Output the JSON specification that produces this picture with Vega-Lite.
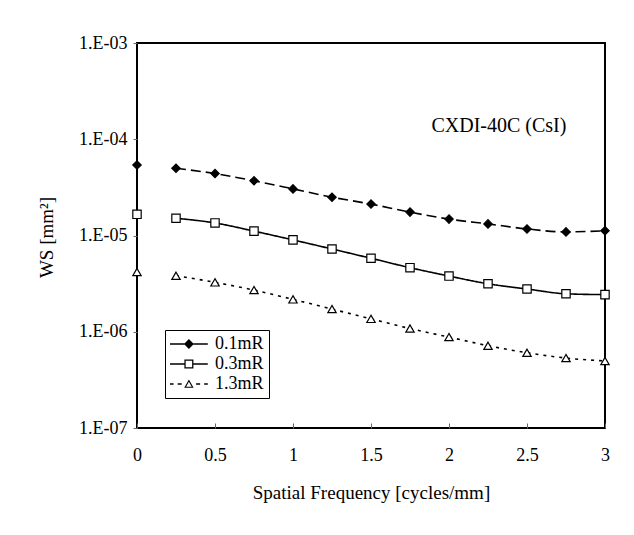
{
  "$schema": "https://vega.github.io/schema/vega-lite/v6.json",
  "width": 468,
  "height": 385,
  "autosize": {"type": "none"},
  "padding": {"left": 137, "top": 43, "right": 29, "bottom": 107},
  "background": "white",
  "config": {
    "view": {"stroke": "black", "strokeWidth": 2},
    "font": "Liberation Serif",
    "axis": {"grid": false, "domain": false, "labelFont": "Liberation Serif", "titleFont": "Liberation Serif", "labelColor": "black", "titleColor": "black", "titleFontWeight": "normal", "labelFontSize": 18, "titleFontSize": 19, "tickColor": "#666", "tickWidth": 1}
  },
  "datasets": {
    "ws": [
      {"series": "0.1mR", "x": 0, "y": 5.4e-5},
      {"series": "0.1mR", "x": 0.25, "y": 5.0e-5},
      {"series": "0.1mR", "x": 0.5, "y": 4.4e-5},
      {"series": "0.1mR", "x": 0.75, "y": 3.7e-5},
      {"series": "0.1mR", "x": 1.0, "y": 3.05e-5},
      {"series": "0.1mR", "x": 1.25, "y": 2.5e-5},
      {"series": "0.1mR", "x": 1.5, "y": 2.12e-5},
      {"series": "0.1mR", "x": 1.75, "y": 1.75e-5},
      {"series": "0.1mR", "x": 2.0, "y": 1.48e-5},
      {"series": "0.1mR", "x": 2.25, "y": 1.32e-5},
      {"series": "0.1mR", "x": 2.5, "y": 1.17e-5},
      {"series": "0.1mR", "x": 2.75, "y": 1.09e-5},
      {"series": "0.1mR", "x": 3.0, "y": 1.12e-5},
      {"series": "0.3mR", "x": 0, "y": 1.66e-5},
      {"series": "0.3mR", "x": 0.25, "y": 1.51e-5},
      {"series": "0.3mR", "x": 0.5, "y": 1.35e-5},
      {"series": "0.3mR", "x": 0.75, "y": 1.11e-5},
      {"series": "0.3mR", "x": 1.0, "y": 9.0e-6},
      {"series": "0.3mR", "x": 1.25, "y": 7.24e-6},
      {"series": "0.3mR", "x": 1.5, "y": 5.8e-6},
      {"series": "0.3mR", "x": 1.75, "y": 4.63e-6},
      {"series": "0.3mR", "x": 2.0, "y": 3.79e-6},
      {"series": "0.3mR", "x": 2.25, "y": 3.15e-6},
      {"series": "0.3mR", "x": 2.5, "y": 2.78e-6},
      {"series": "0.3mR", "x": 2.75, "y": 2.48e-6},
      {"series": "0.3mR", "x": 3.0, "y": 2.43e-6},
      {"series": "1.3mR", "x": 0, "y": 4.18e-6},
      {"series": "1.3mR", "x": 0.25, "y": 3.82e-6},
      {"series": "1.3mR", "x": 0.5, "y": 3.26e-6},
      {"series": "1.3mR", "x": 0.75, "y": 2.71e-6},
      {"series": "1.3mR", "x": 1.0, "y": 2.17e-6},
      {"series": "1.3mR", "x": 1.25, "y": 1.72e-6},
      {"series": "1.3mR", "x": 1.5, "y": 1.36e-6},
      {"series": "1.3mR", "x": 1.75, "y": 1.08e-6},
      {"series": "1.3mR", "x": 2.0, "y": 8.8e-7},
      {"series": "1.3mR", "x": 2.25, "y": 7.16e-7},
      {"series": "1.3mR", "x": 2.5, "y": 6.05e-7},
      {"series": "1.3mR", "x": 2.75, "y": 5.33e-7},
      {"series": "1.3mR", "x": 3.0, "y": 4.97e-7}
    ],
    "note": [{"x": 2.32, "y": 1.37e-4, "label": "CXDI-40C (CsI)"}]
  },
  "resolve": {"scale": {"shape": "independent"}},
  "layer": [
    {
      "data": {"name": "ws"},
      "transform": [{"filter": "datum.x > 0"}],
      "mark": {"type": "line", "interpolate": "monotone", "color": "black", "strokeWidth": 1.6},
      "encoding": {
        "x": {"field": "x", "type": "quantitative", "scale": {"domain": [0, 3], "nice": false},
          "axis": {"values": [0, 0.5, 1, 1.5, 2, 2.5, 3], "format": "~g", "title": "Spatial Frequency [cycles/mm]", "tickSize": -5, "labelPadding": 23, "titleY": 64, "titleBaseline": "middle", "labelFlush": false}},
        "y": {"field": "y", "type": "quantitative", "scale": {"type": "log", "domain": [1e-7, 1e-3], "nice": false},
          "axis": {"values": [1e-7, 1e-6, 1e-5, 1e-4, 1e-3], "labelExpr": "'1.E-0' + (-round(log(datum.value)/LN10))", "title": "WS [mm²]", "tickSize": 4, "labelPadding": 6, "titleX": -91, "titleY": 194, "titleBaseline": "middle", "titleAngle": 270, "labelFlush": false}},
        "detail": {"field": "series"},
        "strokeDash": {"field": "series", "type": "nominal", "legend": null,
          "scale": {"domain": ["0.1mR", "0.3mR", "1.3mR"], "range": [[10, 5], [1, 0], [3, 5]]}}
      }
    },
    {
      "data": {"name": "ws"},
      "mark": {"type": "point", "stroke": "black", "strokeWidth": 1.2, "opacity": 1, "filled": false},
      "encoding": {
        "x": {"field": "x", "type": "quantitative"},
        "y": {"field": "y", "type": "quantitative"},
        "shape": {"field": "series", "type": "nominal", "legend": null,
          "scale": {"domain": ["0.1mR", "0.3mR", "1.3mR"], "range": ["diamond", "square", "triangle-up"]}},
        "fill": {"field": "series", "type": "nominal", "legend": null,
          "scale": {"domain": ["0.1mR", "0.3mR", "1.3mR"], "range": ["black", "white", "white"]}},
        "size": {"value": 70}
      }
    },
    {
      "data": {"name": "ws"},
      "transform": [{"filter": "datum.x > 100"}],
      "mark": {"type": "point", "filled": true, "color": "black", "opacity": 1},
      "encoding": {
        "x": {"field": "x", "type": "quantitative"},
        "y": {"field": "y", "type": "quantitative"},
        "shape": {"field": "series", "type": "nominal",
          "scale": {"domain": ["0.1mR", "0.3mR", "1.3mR"], "range": [
            "M-1,-0.08L0.6,-0.08L0.6,0.08L-1,0.08ZM1.6,-0.08L3.2,-0.08L3.2,0.08L1.6,0.08ZM1.1,-0.55L1.65,0L1.1,0.55L0.55,0Z",
            "M-1,-0.08L0.6,-0.08L0.6,0.08L-1,0.08ZM1.6,-0.08L3.2,-0.08L3.2,0.08L1.6,0.08ZM0.6,-0.5L1.6,-0.5L1.6,0.5L0.6,0.5ZM0.74,-0.36L0.74,0.36L1.46,0.36L1.46,-0.36Z",
            "M-1,-0.08L-0.6,-0.08L-0.6,0.08L-1,0.08ZM-0.15,-0.08L0.3,-0.08L0.3,0.08L-0.15,0.08ZM1.9,-0.08L2.35,-0.08L2.35,0.08L1.9,0.08ZM2.8,-0.08L3.2,-0.08L3.2,0.08L2.8,0.08ZM1.1,-0.5L1.62,0.42L0.58,0.42ZM1.1,-0.255L0.788,0.297L1.412,0.297Z"
          ]},
          "legend": {"title": null, "orient": "none", "legendX": 28, "legendY": 287, "symbolSize": 324, "symbolStrokeWidth": 0, "symbolFillColor": "black", "symbolOpacity": 1, "labelFont": "Liberation Serif", "labelFontSize": 18, "labelColor": "black", "labelOffset": 27, "strokeColor": "black", "fillColor": "white", "padding": 5, "rowPadding": 2, "symbolOffset": 0}
        }
      }
    },
    {
      "data": {"name": "note"},
      "mark": {"type": "text", "font": "Liberation Serif", "fontSize": 20, "color": "black", "baseline": "middle", "align": "center"},
      "encoding": {
        "x": {"field": "x", "type": "quantitative"},
        "y": {"field": "y", "type": "quantitative"},
        "text": {"field": "label"}
      }
    }
  ]
}
